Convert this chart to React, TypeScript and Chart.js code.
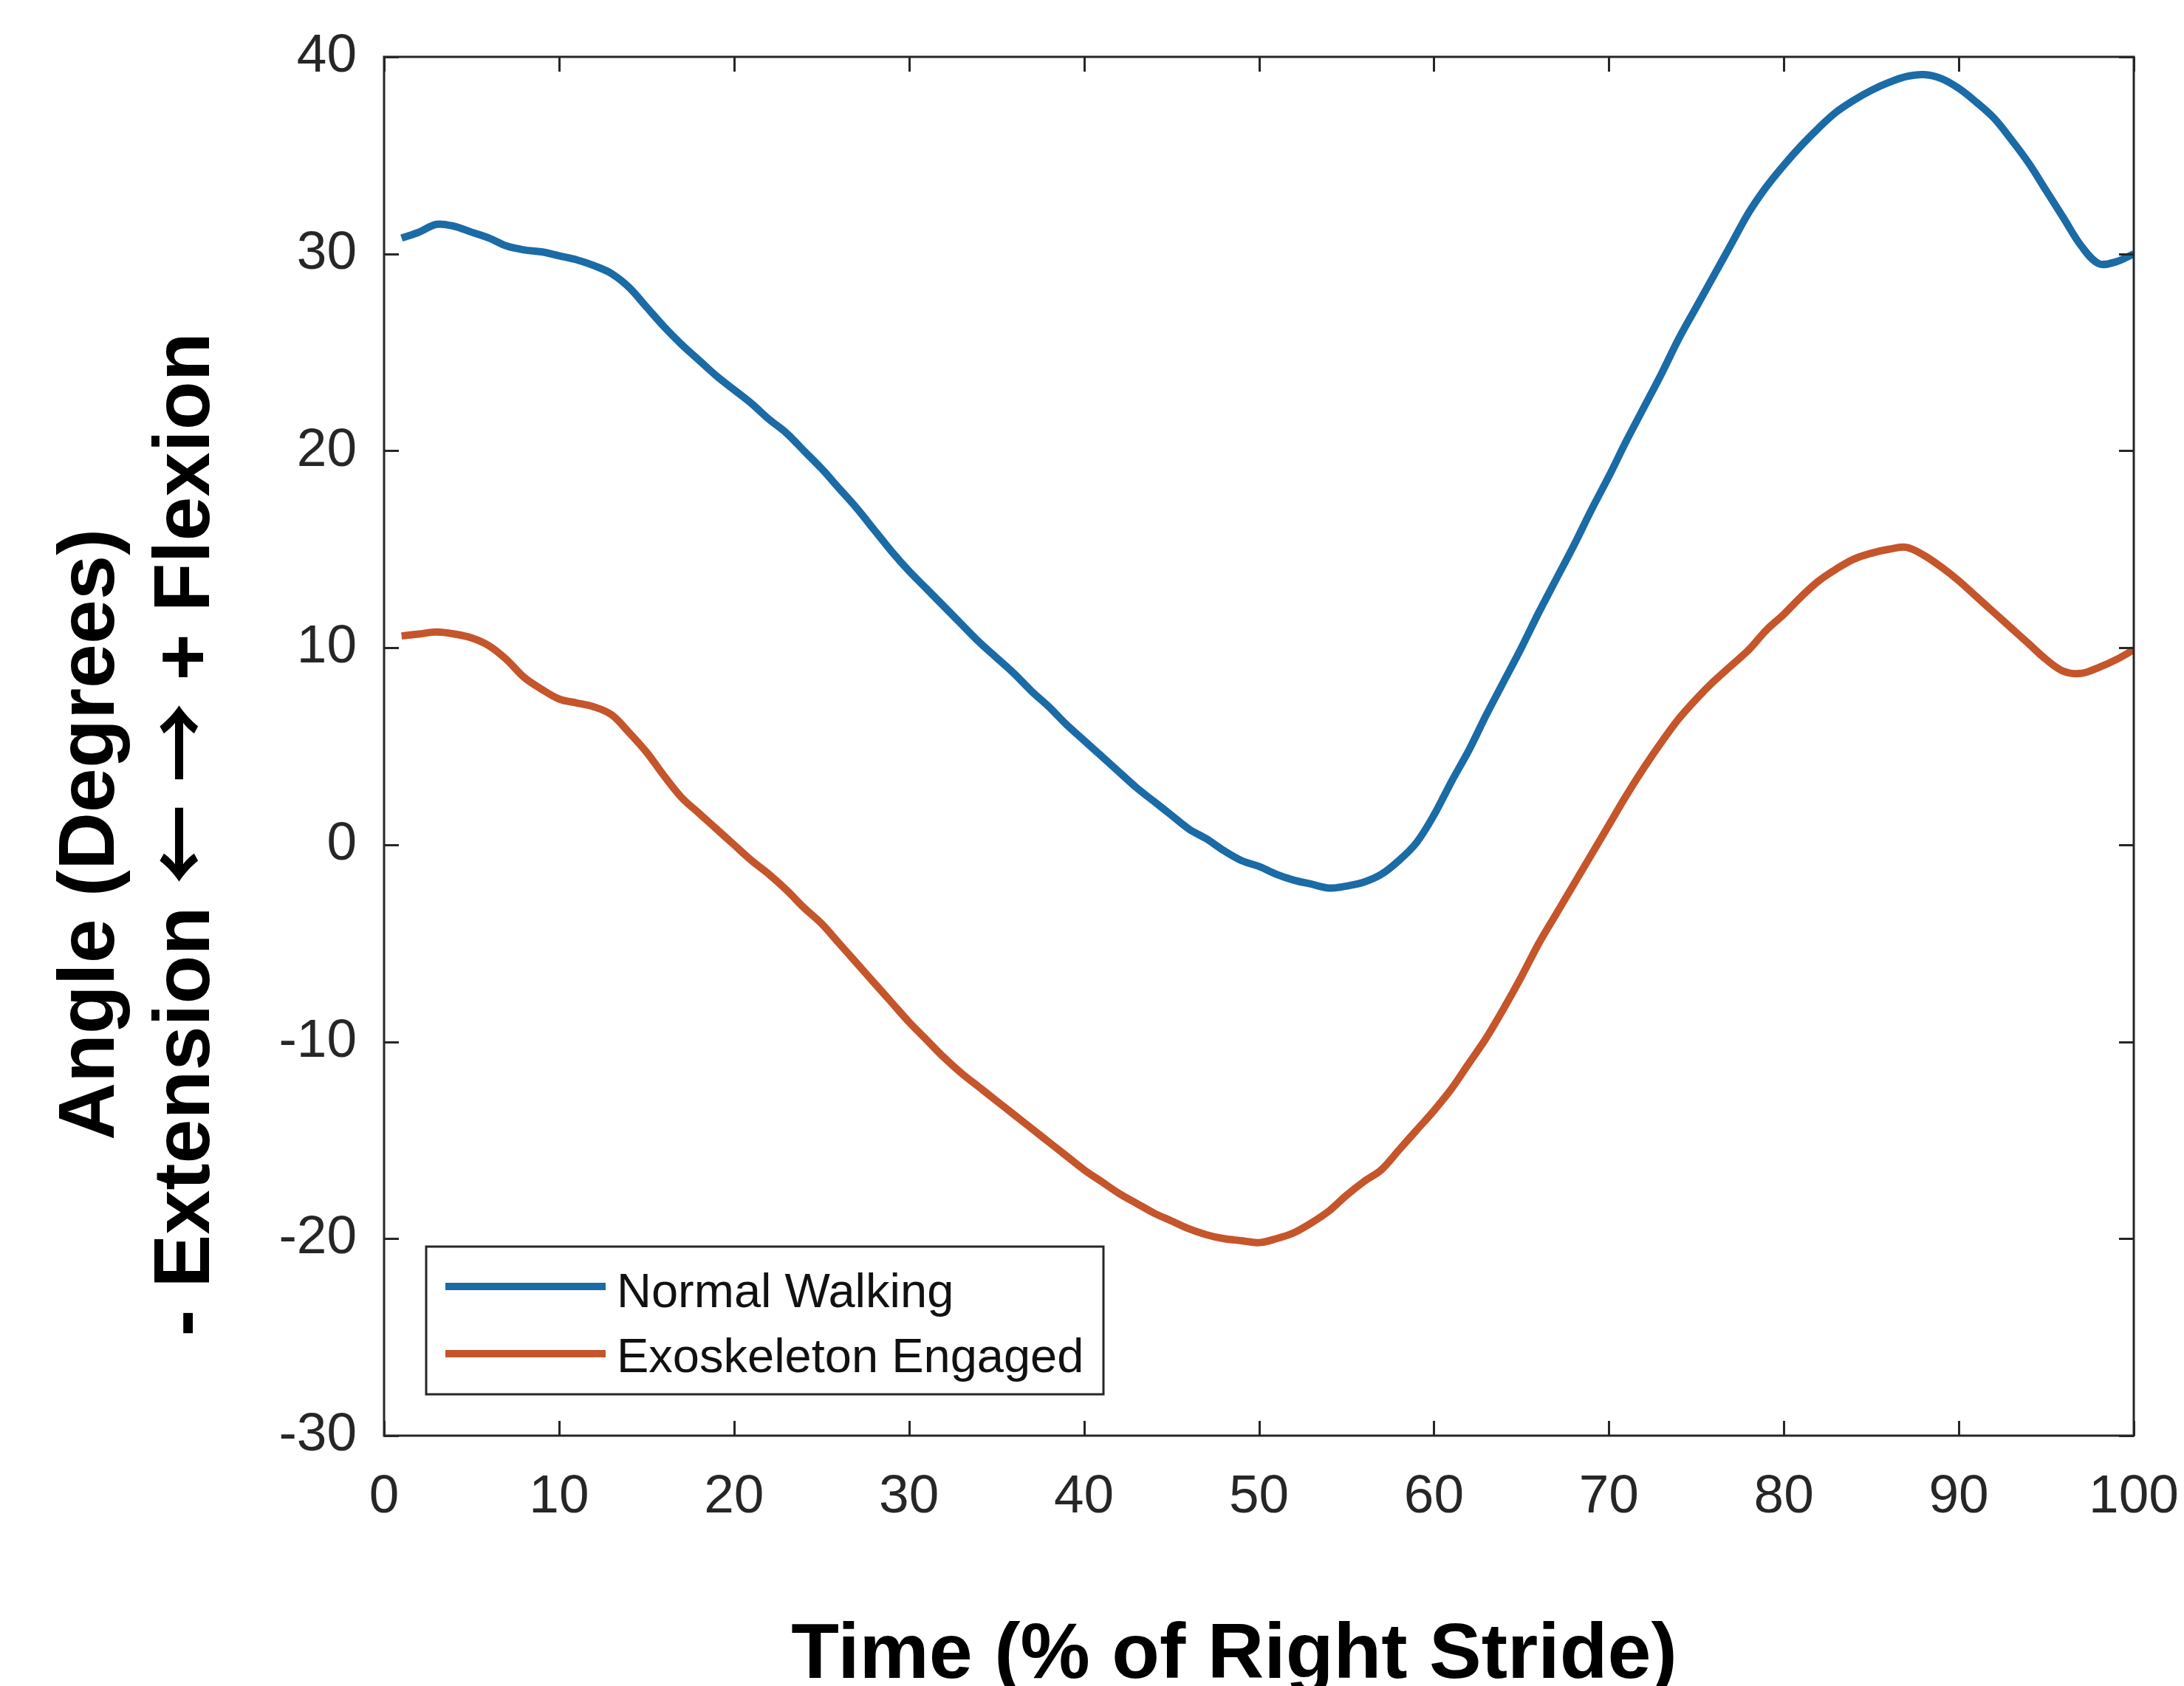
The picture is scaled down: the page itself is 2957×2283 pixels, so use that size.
import React, { useEffect, useRef } from "react";
import { Chart, registerables } from "chart.js";

Chart.register(...registerables);

// ---------- data ----------
const stridePct = [
  1, 2, 3, 4, 5, 6, 7, 8, 9, 10, 11, 12, 13, 14, 15, 16, 17, 18, 19, 20,
  21, 22, 23, 24, 25, 26, 27, 28, 29, 30, 31, 32, 33, 34, 35, 36, 37, 38, 39, 40,
  41, 42, 43, 44, 45, 46, 47, 48, 49, 50, 51, 52, 53, 54, 55, 56, 57, 58, 59, 60,
  61, 62, 63, 64, 65, 66, 67, 68, 69, 70, 71, 72, 73, 74, 75, 76, 77, 78, 79, 80,
  81, 82, 83, 84, 85, 86, 87, 88, 89, 90, 91, 92, 93, 94, 95, 96, 97, 98, 99, 100,
];

const normalWalking = [
  30.8, 31.1, 31.5, 31.4, 31.1, 30.8, 30.4, 30.2, 30.1, 29.9,
  29.7, 29.4, 29.0, 28.3, 27.3, 26.3, 25.4, 24.6, 23.8, 23.1,
  22.4, 21.6, 20.9, 20.0, 19.1, 18.1, 17.1, 16.0, 14.9, 13.9,
  13.0, 12.1, 11.2, 10.3, 9.5, 8.7, 7.8, 7.0, 6.1, 5.3,
  4.5, 3.7, 2.9, 2.2, 1.5, 0.8, 0.3, -0.3, -0.8, -1.1,
  -1.5, -1.8, -2.0, -2.2, -2.1, -1.9, -1.5, -0.8, 0.1, 1.5,
  3.2, 4.8, 6.6, 8.3, 10.0, 11.8, 13.5, 15.2, 17.0, 18.7,
  20.5, 22.2, 23.9, 25.7, 27.3, 28.9, 30.5, 32.1, 33.4, 34.5,
  35.5, 36.4, 37.2, 37.8, 38.3, 38.7, 39.0, 39.1, 38.9, 38.4,
  37.7, 36.9, 35.8, 34.6, 33.2, 31.8, 30.4, 29.5, 29.6, 30.0,
];

const exoskeletonEngaged = [
  10.6, 10.7, 10.8, 10.7, 10.5, 10.1, 9.4, 8.5, 7.9, 7.4,
  7.2, 7.0, 6.6, 5.7, 4.7, 3.5, 2.4, 1.6, 0.8, 0.0,
  -0.8, -1.5, -2.3, -3.2, -4.0, -5.0, -6.0, -7.0, -8.0, -9.0,
  -9.9, -10.8, -11.6, -12.3, -13.0, -13.7, -14.4, -15.1, -15.8, -16.5,
  -17.1, -17.7, -18.2, -18.7, -19.1, -19.5, -19.8, -20.0, -20.1, -20.2,
  -20.0, -19.7, -19.2, -18.6, -17.8, -17.1, -16.5, -15.5, -14.5, -13.5,
  -12.4, -11.1, -9.8, -8.3, -6.7, -5.0, -3.5, -2.0, -0.5, 1.0,
  2.5, 3.9, 5.2, 6.4, 7.4, 8.3, 9.1, 9.9, 10.9, 11.7,
  12.6, 13.4, 14.0, 14.5, 14.8, 15.0, 15.1, 14.7, 14.1, 13.4,
  12.6, 11.8, 11.0, 10.2, 9.4, 8.8, 8.7, 9.0, 9.4, 9.9,
];

const seriesLabels = ["Normal Walking", "Exoskeleton Engaged"];
const xTickValues = [0, 10, 20, 30, 40, 50, 60, 70, 80, 90, 100];
const yTickValues = [-30, -20, -10, 0, 10, 20, 30, 40];
const xTitle = "Time (% of Right Stride)";
const yTitleLines = ["Angle (Degrees)", "- Extension \u2190 \u2192 + Flexion"];

// ---------- styles ----------
const W = 2957;
const H = 2283;
const BLUE = "#1a6ba6";
const ORANGE = "#c5552a";
const AXIS = "#262626";
const FONT = "'Liberation Sans', Arial, Helvetica, sans-serif";
const ARROW_FONT = "'Noto Sans CJK SC', 'DejaVu Sans', sans-serif";

function drawMixedCentered(ctx: any, text: string, size: number) {
  const parts = text.split(/([\u2190-\u21ff])/).filter((p) => p.length > 0);
  const fonts = parts.map((p) =>
    /^[\u2190-\u21ff]$/.test(p) ? `bold ${size}px ${ARROW_FONT}` : `bold ${size}px ${FONT}`
  );
  const widths = parts.map((p, i) => {
    ctx.font = fonts[i];
    return ctx.measureText(p).width;
  });
  const total = widths.reduce((s, w) => s + w, 0);
  let x = -total / 2;
  ctx.textAlign = "left";
  parts.forEach((p, i) => {
    ctx.font = fonts[i];
    ctx.fillText(p, x, 0);
    x += widths[i];
  });
}

const framePlugin = {
  id: "matlabFrame",
  afterDraw(chart: any) {
    const { ctx, chartArea: a, scales } = chart;
    const xs = scales.x;
    const ys = scales.y;
    ctx.save();

    // inward ticks on all four sides
    ctx.strokeStyle = AXIS;
    ctx.lineWidth = 3;
    const tl = 20;
    ctx.beginPath();
    xTickValues.forEach((v) => {
      const px = Math.round(xs.getPixelForValue(v)) + 0.5;
      ctx.moveTo(px, a.bottom);
      ctx.lineTo(px, a.bottom - tl);
      ctx.moveTo(px, a.top);
      ctx.lineTo(px, a.top + tl);
    });
    yTickValues.forEach((v) => {
      const py = Math.round(ys.getPixelForValue(v)) + 0.5;
      ctx.moveTo(a.left, py);
      ctx.lineTo(a.left + tl, py);
      ctx.moveTo(a.right, py);
      ctx.lineTo(a.right - tl, py);
    });
    ctx.stroke();
    ctx.strokeRect(a.left, a.top, a.right - a.left, a.bottom - a.top);

    // legend box (lower-left inside axes)
    const lx = a.left + 57;
    const lr = a.left + 974;
    const lt = a.bottom - 256;
    const lb = a.bottom - 56;
    ctx.fillStyle = "#ffffff";
    ctx.fillRect(lx, lt, lr - lx, lb - lt);
    ctx.strokeStyle = AXIS;
    ctx.lineWidth = 3;
    ctx.strokeRect(lx, lt, lr - lx, lb - lt);
    const rows = [
      { y: lt + 54, base: lt + 82 },
      { y: lt + 145, base: lt + 170 },
    ];
    chart.data.datasets.forEach((ds: any, i: number) => {
      const r = rows[i];
      ctx.strokeStyle = ds.borderColor;
      ctx.lineWidth = 10;
      ctx.beginPath();
      ctx.moveTo(lx + 26, r.y);
      ctx.lineTo(lx + 243, r.y);
      ctx.stroke();
      ctx.fillStyle = "#111111";
      ctx.font = `65px ${FONT}`;
      ctx.textAlign = "left";
      ctx.textBaseline = "alphabetic";
      ctx.fillText(ds.label, lx + 258, r.base);
    });

    // axis titles
    ctx.fillStyle = "#000000";
    ctx.font = `bold 106px ${FONT}`;
    ctx.textAlign = "center";
    ctx.textBaseline = "alphabetic";
    ctx.fillText(xTitle, 1671, 2272);

    const baselines = [154, 283];
    yTitleLines.forEach((line, i) => {
      ctx.save();
      ctx.translate(baselines[i], 1130);
      ctx.rotate(-Math.PI / 2);
      ctx.textBaseline = "alphabetic";
      drawMixedCentered(ctx, line, 108);
      ctx.restore();
    });

    ctx.restore();
  },
};

export default function App() {
  const ref = useRef<HTMLCanvasElement | null>(null);

  useEffect(() => {
    if (!ref.current) return;
    const chart = new Chart(ref.current, {
      type: "line",
      data: {
        labels: stridePct,
        datasets: [
          {
            label: seriesLabels[0],
            data: normalWalking,
            borderColor: BLUE,
            backgroundColor: BLUE,
            borderWidth: 10,
            pointRadius: 0,
            tension: 0.35,
            fill: false,
          },
          {
            label: seriesLabels[1],
            data: exoskeletonEngaged,
            borderColor: ORANGE,
            backgroundColor: ORANGE,
            borderWidth: 10,
            pointRadius: 0,
            tension: 0.35,
            fill: false,
          },
        ],
      },
      options: {
        responsive: false,
        animation: false,
        devicePixelRatio: 1,
        layout: { padding: { top: 77, right: 68, left: 0, bottom: 0 } },
        plugins: {
          legend: { display: false },
          tooltip: { enabled: false },
          title: { display: false },
        },
        scales: {
          x: {
            type: "linear",
            min: 0,
            max: 100,
            grid: { display: false, drawTicks: false },
            border: { display: false },
            ticks: {
              autoSkip: false,
              maxRotation: 0,
              minRotation: 0,
              padding: 40,
              color: AXIS,
              font: { family: FONT, size: 73 },
            },
            afterBuildTicks: (scale: any) => {
              scale.ticks = xTickValues.map((v) => ({ value: v }));
            },
            afterFit: (scale: any) => {
              scale.height = 339;
              scale.paddingLeft = 0;
              scale.paddingRight = 0;
            },
          },
          y: {
            type: "linear",
            min: -30,
            max: 40,
            grid: { display: false, drawTicks: false },
            border: { display: false },
            ticks: {
              autoSkip: false,
              padding: 37,
              color: AXIS,
              font: { family: FONT, size: 73 },
            },
            afterBuildTicks: (scale: any) => {
              scale.ticks = yTickValues.map((v) => ({ value: v }));
            },
            afterFit: (scale: any) => {
              scale.width = 520;
              scale.paddingTop = 0;
              scale.paddingBottom = 0;
            },
          },
        },
      },
      plugins: [framePlugin],
    });
    return () => chart.destroy();
  }, []);

  return (
    <div style={{ position: "fixed", left: 0, top: 0, width: W, height: H, background: "#ffffff" }}>
      <canvas ref={ref} width={W} height={H} style={{ display: "block", width: W, height: H }} />
    </div>
  );
}
